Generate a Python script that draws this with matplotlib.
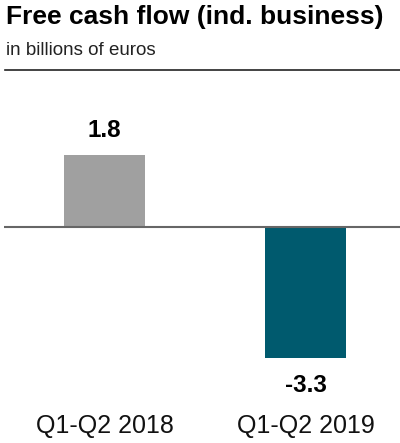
import numpy as np
import matplotlib
matplotlib.use('Agg')
import matplotlib.pyplot as plt

# Free cash flow figures (billions of euros)
categories = ['Q1-Q2 2018', 'Q1-Q2 2019']
values = [1.8, -3.3]
labels = ['1.8', '-3.3']
colors = ['#a0a0a0', '#005a6e']

plt.rcParams['font.family'] = ['Liberation Sans', 'DejaVu Sans']

fig = plt.figure(figsize=(4.0, 4.43), dpi=100)

# Title block
fig.text(0.015, 0.9458, 'Free cash flow (ind. business)', fontsize=19,
         fontweight='bold', va='baseline', ha='left')
fig.text(0.015, 0.8758, 'in billions of euros', fontsize=13.5,
         va='baseline', ha='left', color='#222222')
fig.add_artist(plt.Line2D([0.012, 1.0], [0.842, 0.842], color='#222222', lw=1.2))

ax = fig.add_axes([0.01, 0.0677, 0.99, 0.7517])
x = np.arange(len(categories))
bars = ax.bar(x, values, width=0.403, color=colors, zorder=2)
ax.axhline(0, color='#666666', lw=1.5, zorder=3)

for xi, v, lab in zip(x, values, labels):
    off = 13 if v > 0 else -24
    ax.annotate(lab, (xi, v), xytext=(0, off), textcoords='offset points',
                ha='center', va='baseline', fontsize=17.5, fontweight='bold')

ax.set_xlim(-0.5, 1.47)
ax.set_ylim(-4.673, 3.69)
ax.set_xticks(x)
ax.set_xticklabels(categories, fontsize=18, color='#111111')
ax.tick_params(axis='x', length=0, pad=0.5)
ax.set_yticks([])
for s in ax.spines.values():
    s.set_visible(False)

fig.savefig('out.png', dpi=100)
